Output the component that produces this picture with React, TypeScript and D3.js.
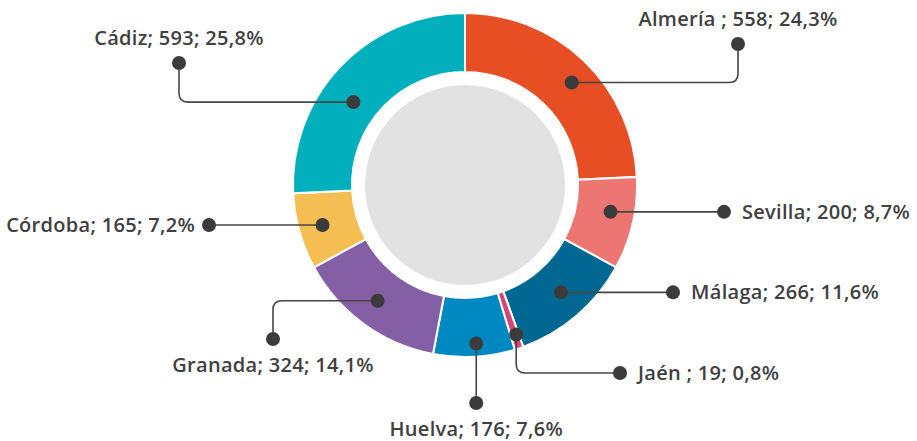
import React from "react";
import * as d3 from "d3";

// ---- data ----
const provinces = ["Almería ", "Sevilla", "Málaga", "Jaén ", "Huelva", "Granada", "Córdoba", "Cádiz"];
const counts = [558, 200, 266, 19, 176, 324, 165, 593];
const colors = ["#e84e24", "#ee7672", "#006893", "#d6457a", "#0088c1", "#855fa5", "#f4be52", "#02afbc"];

// ---- label layout (leader routing, relative to the donut centre) ----
const anchorShift = [2.5, -2.5, -1.2, -0.6, -1, 1, 0, -7]; // degrees
const anchorRadius = [148, 148, 144, 158, 159, 145, 148, 139];
const routes = ["hv", "h", "h", "vh", "v", "hv", "h", "hv"];
const labelDx = [273, 259, 208, 155, 0, -192, -256, -286];
const labelDy = [-141, 0, 0, 188, 218, 154, 0, -122];
const textSide = ["above", "right", "right", "right", "below", "below", "left", "above"];

const W = 917;
const H = 441;
const cx = 465;
const cy = 185;
const outerR = 172;
const innerR = 113;
const centerR = 100;

export default function App() {
  const total = d3.sum(counts);
  const items = provinces.map((p, i) => ({ name: p, value: counts[i], color: colors[i], i }));
  const pie = d3.pie<any>().sort(null).value((d: any) => d.value).startAngle(0).endAngle(2 * Math.PI);
  const arcs = pie(items);
  const arcGen = d3.arc<any>().innerRadius(innerR).outerRadius(outerR);
  const fmt = (v: number) => ((v / total) * 100).toFixed(1).replace(".", ",");
  const textColor = "#404040";
  const lineColor = "#454545";

  return (
    <svg
      width={W}
      height={H}
      style={{ position: "absolute", left: 0, top: 0, display: "block", background: "#fff" }}
    >
      <g transform={`translate(${cx},${cy})`}>
        {arcs.map((a, k) => (
          <path key={k} d={arcGen(a) as string} fill={a.data.color} stroke="#fff" strokeWidth={2} />
        ))}
        <circle r={centerR} fill="#e2e2e2" />
        {arcs.map((a, k) => {
          const i = a.data.i;
          const mid = (a.startAngle + a.endAngle) / 2 + (anchorShift[i] * Math.PI) / 180;
          const ax = Math.sin(mid) * anchorRadius[i];
          const ay = -Math.cos(mid) * anchorRadius[i];
          const route = routes[i];
          let lx = labelDx[i];
          let ly = labelDy[i];
          if (route === "h") ly = ay;
          if (route === "v") lx = ax;
          const p = d3.path();
          const rc = 9;
          p.moveTo(ax, ay);
          if (route === "hv") {
            const sx = Math.sign(lx - ax);
            const sy = Math.sign(ly - ay);
            p.lineTo(lx - sx * rc, ay);
            p.quadraticCurveTo(lx, ay, lx, ay + sy * rc);
            p.lineTo(lx, ly);
          } else if (route === "vh") {
            const sx = Math.sign(lx - ax);
            const sy = Math.sign(ly - ay);
            p.lineTo(ax, ly - sy * rc);
            p.quadraticCurveTo(ax, ly, ax + sx * rc, ly);
            p.lineTo(lx, ly);
          } else {
            p.lineTo(lx, ly);
          }
          const label = `${a.data.name}; ${a.data.value}; ${fmt(a.data.value)}%`;
          const side = textSide[i];
          let tx = lx;
          let ty = ly;
          let anchor: "start" | "middle" | "end" = "middle";
          if (side === "above") {
            ty = ly - 18;
          } else if (side === "below") {
            ty = ly + 33;
          } else if (side === "right") {
            tx = lx + 18;
            ty = ly + 7;
            anchor = "start";
          } else {
            tx = lx - 14;
            ty = ly + 7;
            anchor = "end";
          }
          return (
            <g key={"l" + k}>
              <path d={p.toString()} fill="none" stroke={lineColor} strokeWidth={1.6} />
              <circle cx={ax} cy={ay} r={7} fill="#3b3b3b" />
              <circle cx={lx} cy={ly} r={7} fill="#3b3b3b" />
              <text
                x={tx}
                y={ty}
                textAnchor={anchor}
                fill={textColor}
                fontFamily="'Open Sans', sans-serif"
                fontWeight={600}
                fontSize={20}
                letterSpacing={0.3}
              >
                {label}
              </text>
            </g>
          );
        })}
      </g>
    </svg>
  );
}
